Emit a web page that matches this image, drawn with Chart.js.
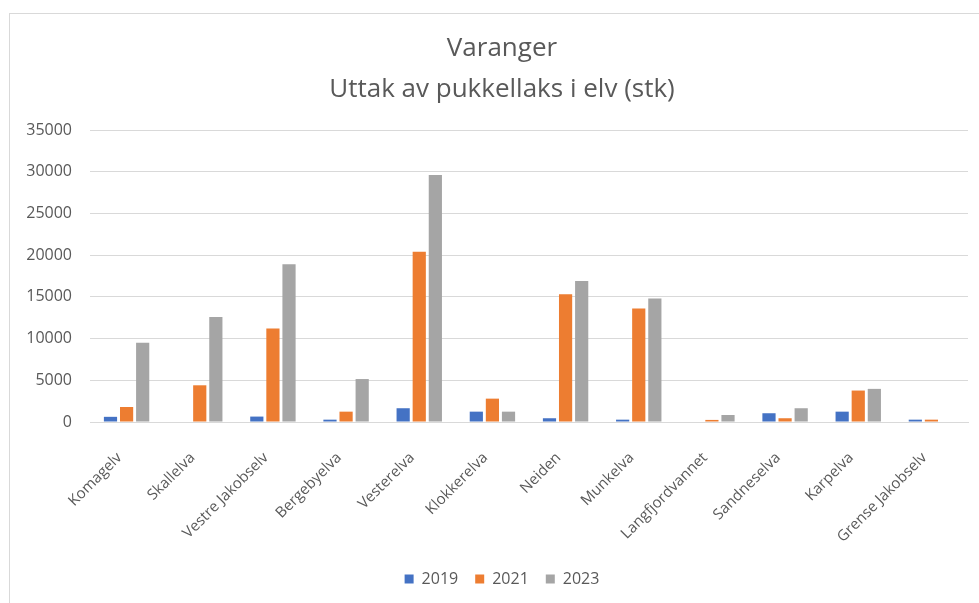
<!DOCTYPE html>
<html>
<head>
<meta charset="utf-8">
<script src="https://cdn.jsdelivr.net/npm/chart.js@4"></script>
<style>
html,body{margin:0;padding:0;background:#fff;overflow:hidden;}
#wrap{position:relative;width:979px;height:603px;overflow:hidden;}
canvas{position:absolute;left:0;top:0;}
#frame{position:absolute;left:9px;top:13px;width:1000px;height:700px;border-top:1px solid #d9d9d9;border-left:1px solid #d9d9d9;pointer-events:none;}
</style>
</head>
<body>
<div id="wrap">
<canvas id="c" width="1004" height="603"></canvas>
<div id="frame"></div>
</div>
<script>
const categories = ["Komagelv","Skallelva","Vestre Jakobselv","Bergebyelva","Vesterelva","Klokkerelva","Neiden","Munkelva","Langfjordvannet","Sandneselva","Karpelva","Grense Jakobselv"];
const v2019 = [620, 0, 650, 280, 1650, 1240, 450, 280, 0, 1050, 1240, 280];
const v2021 = [1800, 4400, 11200, 1240, 20400, 2800, 15300, 13600, 250, 450, 3770, 280];
const v2023 = [9500, 12600, 18900, 5150, 29600, 1240, 16900, 14800, 840, 1650, 3970, 0];
const yTicks = [0,5000,10000,15000,20000,25000,30000,35000];
const titleLines = ["Varanger","Uttak av pukkellaks i elv (stk)"];

const FONT = "'Open Sans', sans-serif";
const TXT = "#595959";

new Chart(document.getElementById('c'), {
  type: 'bar',
  data: {
    labels: categories,
    datasets: [
      {label:"2019", data:v2019, backgroundColor:"#4472C4"},
      {label:"2021", data:v2021, backgroundColor:"#ED7D31"},
      {label:"2023", data:v2023, backgroundColor:"#A5A5A5"}
    ]
  },
  options: {
    responsive:false,
    animation:false,
    datasets:{bar:{categoryPercentage:0.66, barPercentage:0.82}},
    layout:{padding:{left:0,right:0,top:0,bottom:6}},
    plugins:{
      title:{display:true,text:titleLines,color:TXT,font:{family:FONT,size:26,weight:'normal',lineHeight:41/26},padding:{top:28,bottom:20}},
      legend:{position:'bottom',labels:{color:TXT,font:{family:FONT,size:16},boxWidth:9,boxHeight:9,padding:17}},
      tooltip:{enabled:false}
    },
    scales:{
      x:{
        grid:{display:false,drawTicks:false},
        border:{display:true,color:"#d9d9d9"},
        ticks:{color:TXT,font:{family:FONT,size:15},maxRotation:45,minRotation:45,padding:27,labelOffset:-7},
        afterFit(s){ s.height = 132; }
      },
      y:{
        min:0,max:35000,
        afterBuildTicks(s){ s.ticks = yTicks.map(v=>({value:v})); },
        grid:{color:"#d9d9d9",drawTicks:false},
        border:{display:false},
        ticks:{color:TXT,font:{family:FONT,size:16},padding:18,callback:v=>String(v)},
        afterFit(s){ s.width = 90; }
      },
      yR:{
        position:'right',
        min:0,max:35000,
        grid:{display:false,drawTicks:false},
        border:{display:false},
        ticks:{display:false},
        afterFit(s){ s.width = 36; }
      }
    }
  }
});
</script>
</body>
</html>
